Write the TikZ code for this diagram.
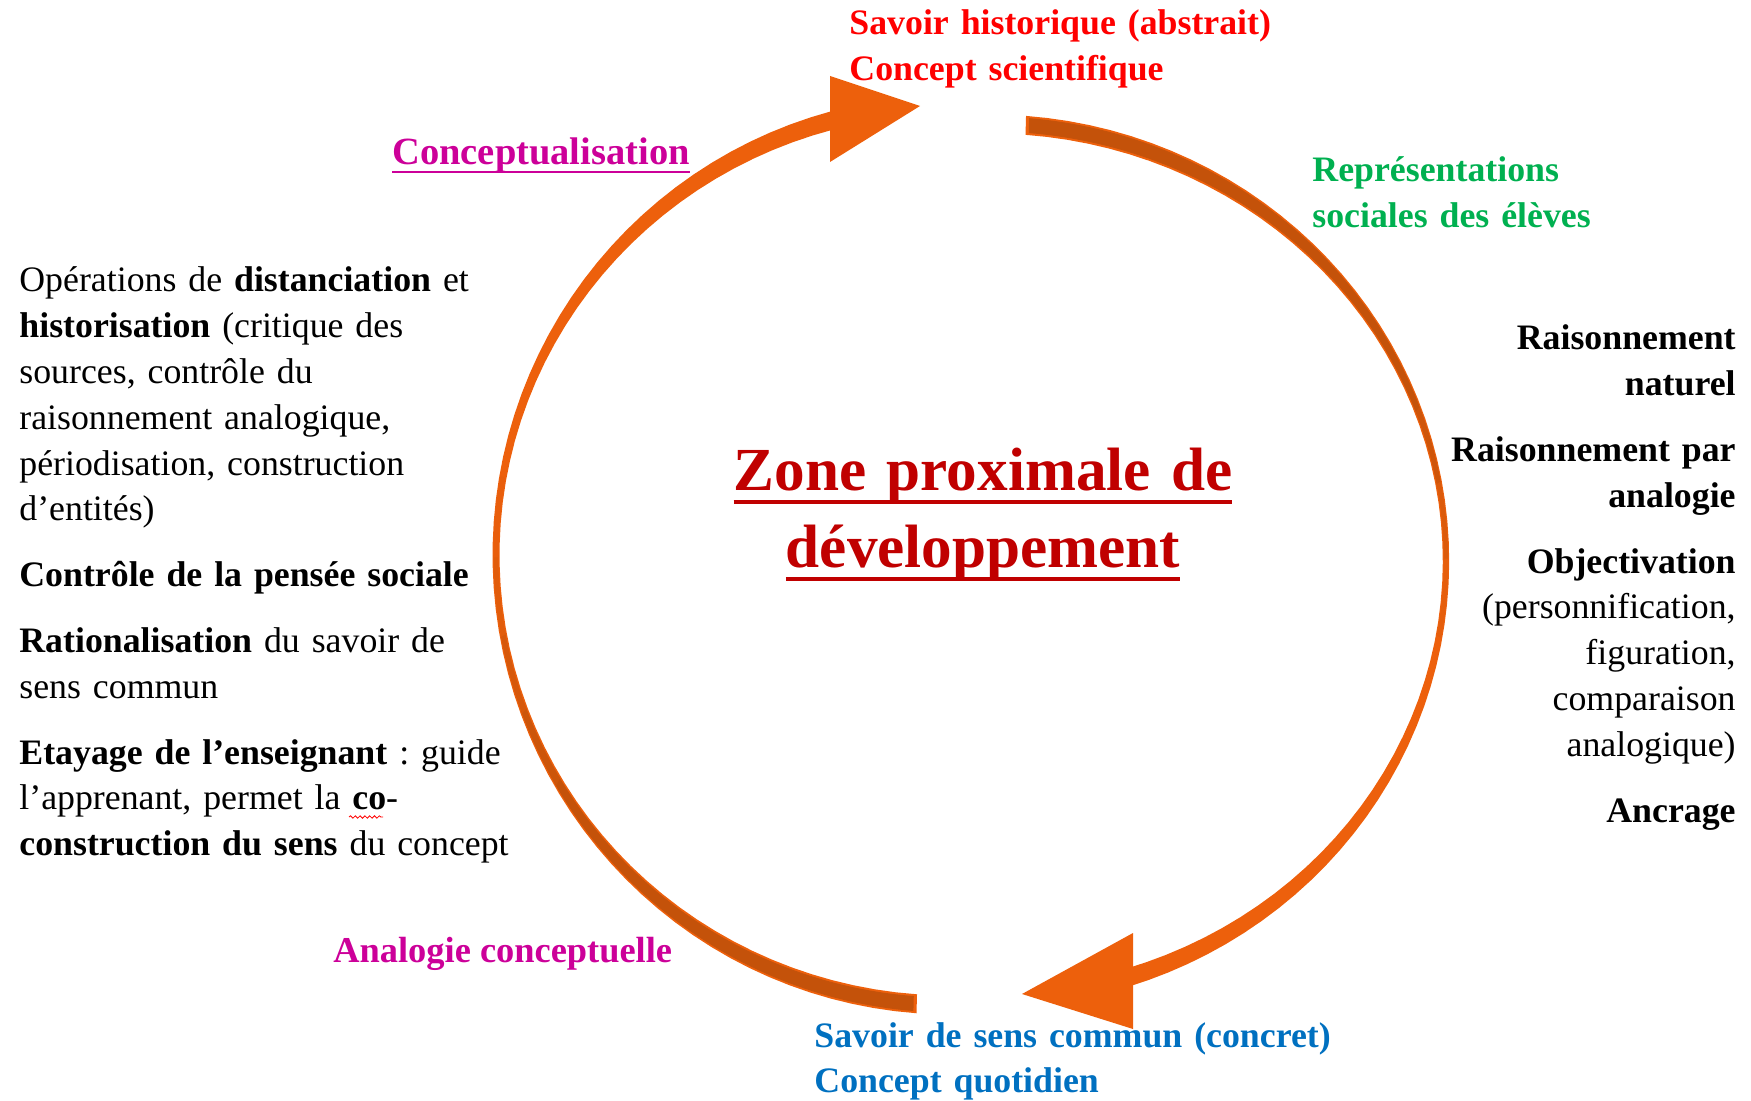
\documentclass[tikz,border=0pt]{standalone}
\usepackage{fontspec}
\setmainfont{Liberation Serif}
\usetikzlibrary{decorations.pathmorphing}
\frenchspacing

\definecolor{arcorange}{RGB}{237,96,12}
\definecolor{arcdark}{RGB}{196,82,10}
\definecolor{scired}{RGB}{255,0,0}
\definecolor{zpdred}{RGB}{192,0,0}
\definecolor{labmagenta}{RGB}{204,0,153}
\definecolor{repgreen}{RGB}{0,176,80}
\definecolor{comblue}{RGB}{0,112,192}

%% underline as Word draws it (through the descenders)
\newcommand{\wordul}[1]{\leavevmode\setbox0\hbox{#1}\rlap{\rule[-0.21em]{\wd0}{0.065em}}\box0}

\tikzset{
  txt/.style={inner sep=0pt, font=\fontsize{17.9}{22.9}\selectfont},
  btxt/.style={inner sep=0pt, font=\fontsize{17.9}{22.9}\selectfont\bfseries},
  lab/.style={inner sep=0pt, anchor=base west, text=labmagenta,
    font=\fontsize{19.25}{24}\selectfont\bfseries},
  %% crescent band: cx, cy, rx, ry, from, to, half width x, half width y
  band/.style n args={8}{insert path={
    plot[domain=#5:#6, samples=60, variable=\q] ({#1+(#3+#7)*cos(\q)},{#2+(#4+#8)*sin(\q)})
    -- plot[domain=#6:#5, samples=60, variable=\q] ({#1+(#3-#7)*cos(\q)},{#2+(#4-#8)*sin(\q)})
    -- cycle}},
}

\begin{document}
\begin{tikzpicture}[x=0.5pt,y=-0.5pt]
  \useasboundingbox (0,0) rectangle (1751,1101);

  %% Left arc, going up to the scientific concept
  \fill[arcorange, band={950}{555}{454}{450}{94.2}{255}{3.5}{9.5}];
  \foreach \a/\b/\o in {94.6/150/100, 149.7/160/80, 159.7/170/55, 169.7/180/30, 179.7/190/12}
    \fill[arcdark!\o!arcorange, band={950}{555}{454}{450}{\a}{\b}{2.3}{7.5}];
  \coordinate (TIPSCI) at (920,106);
  \fill[arcorange] (830,76) -- (TIPSCI) -- (830,162) -- cycle;

  %% Right arc, going down to the everyday concept
  \fill[arcorange, band={990}{561}{456}{437}{274.5}{432.5}{3.2}{9.5}];
  \foreach \a/\b/\o in {274.9/340/100, 339.7/350/75, 349.7/360/45, 359.7/370/18}
    \fill[arcdark!\o!arcorange, band={990}{561}{456}{437}{\a}{\b}{2.1}{7.5}];
  \coordinate (TIPQUO) at (1022,994);
  \fill[arcorange] (1133,933) -- (TIPQUO) -- (1133,1029) -- cycle;

  %% Labels round the cycle
  \node[btxt, text=scired, text width=250pt, align=left, anchor=base west] (SCIENT) at (849,35)
    {Savoir historique (abstrait)\\Concept scientifique};
  \node[btxt, text=comblue, text width=280pt, align=left, anchor=base west] (QUOTID) at (814,1047)
    {Savoir de sens commun (concret)\\Concept quotidien};
  \node[btxt, text=repgreen, text width=150pt, align=left, anchor=base west] (REPSOC) at (1312,182)
    {Représentations\\sociales des élèves};
  \node[lab] (CONCEPT) at (392,165) {\wordul{Conceptualisation}};
  \node[lab, font=\fontsize{18.2}{24}\selectfont\bfseries] (ANALOG) at (333,962) {Analogie conceptuelle};

  %% Centre
  \node[inner sep=0pt, text=zpdred, font=\fontsize{30.6}{38.5}\selectfont\bfseries,
    text width=330pt, align=center, anchor=base] (ZPD) at (983,491)
    {\wordul{Zone proximale de}\\\wordul{développement}};

  %% Left column
  \node[txt, text width=260pt, align=left, anchor=base west] (LEFTOPS) at (19,292)
    {Opérations de \textbf{distanciation} et\\
     \textbf{historisation} (critique des\\
     sources, contrôle du\\
     raisonnement analogique,\\
     périodisation, construction\\
     d’entités)\\[10pt]
     \textbf{Contrôle de la pensée sociale}\\[10pt]
     \textbf{Rationalisation} du savoir de\\
     sens commun\\[10pt]
     \textbf{Etayage de l’enseignant} : guide\\
     l’apprenant, permet la \textbf{co}-\\
     \textbf{construction du sens} du concept};
  \draw[red, line width=0.4pt, decorate, decoration={snake, amplitude=0.6pt, segment length=2.4pt}]
    (349,817) -- (383,817);

  %% Right column
  \node[txt, text width=200pt, align=right, anchor=base east] (RIGHTRAIS) at (1736,350)
    {\textbf{Raisonnement}\\
     \textbf{naturel}\\[10pt]
     \textbf{Raisonnement par}\\
     \textbf{analogie}\\[10pt]
     \textbf{Objectivation}\\
     (personnification,\\
     figuration,\\
     comparaison\\
     analogique)\\[10pt]
     \textbf{Ancrage}};
\end{tikzpicture}
\end{document}
